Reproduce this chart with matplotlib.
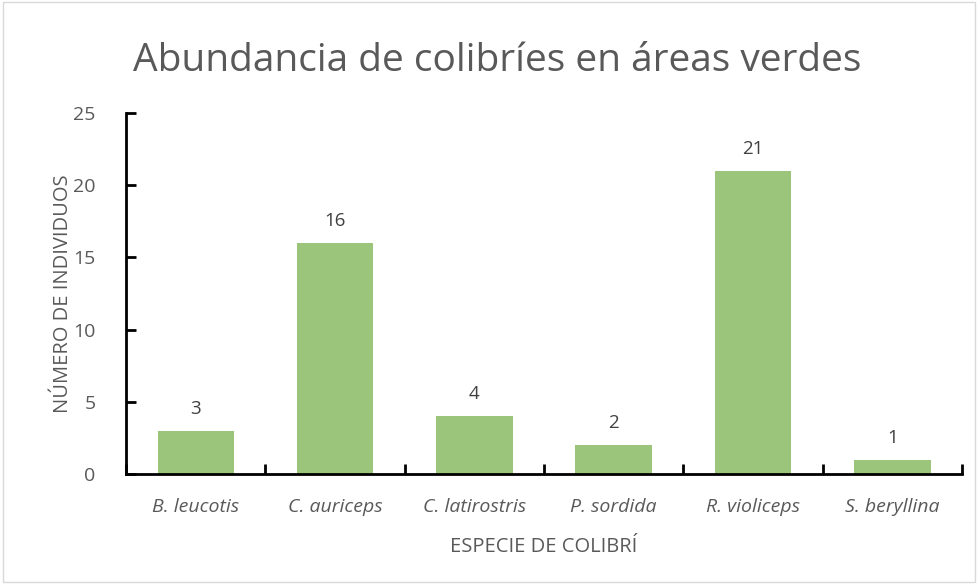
import matplotlib.pyplot as plt
import numpy as np
from matplotlib.patches import Rectangle

especies = ['B. leucotis', 'C. auriceps', 'C. latirostris', 'P. sordida', 'R. violiceps', 'S. beryllina']
individuos = [3, 16, 4, 2, 21, 1]
yticks = [0, 5, 10, 15, 20, 25]

gray = '#595959'
plt.rcParams['font.family'] = ['Open Sans', 'DejaVu Sans']

fig = plt.figure(figsize=(9.78, 5.84), dpi=100)
ax = fig.add_axes([0.129, 0.188, 0.8545, 0.6185])

x = np.arange(len(especies))
ax.bar(x, individuos, width=0.55, color='#9BC57B')
for xi, v in zip(x, individuos):
    ax.text(xi, v + 0.9, str(v), ha='center', va='bottom', fontsize=13.5, color='#404040')

ax.set_xlim(-0.5, len(especies) - 0.5)
ax.set_ylim(0, 25)
ax.set_yticks(yticks)
ax.set_xticks(x)
ax.set_xticklabels(especies, style='italic', fontsize=14, color=gray)
ax.set_xticks(np.arange(len(especies) + 1) - 0.5, minor=True)
ax.tick_params(axis='x', which='major', length=0, pad=17)
ax.tick_params(axis='x', which='minor', direction='in', length=7, width=2, color='black')
ax.tick_params(axis='y', direction='in', length=7, width=2, color='black', labelsize=14,
               labelcolor=gray, pad=22)

for s in ['top', 'right']:
    ax.spines[s].set_visible(False)
for s in ['left', 'bottom']:
    ax.spines[s].set_linewidth(2)
    ax.spines[s].set_color('black')

ax.set_xlabel('ESPECIE DE COLIBRÍ', fontsize=14.5, color=gray, labelpad=15)
ax.set_ylabel('NÚMERO DE INDIVIDUOS', fontsize=14.5, color=gray)
ax.yaxis.set_label_coords(-0.064, 0.5)
fig.text(0.508, 0.895, 'Abundancia de colibríes en áreas verdes', ha='center', va='center',
         fontsize=28, color=gray)

fig.patches.append(Rectangle((0.003, 0.003), 0.994, 0.994, transform=fig.transFigure,
                             fill=False, edgecolor='#d9d9d9', linewidth=1))

plt.savefig('out.png', dpi=100)
